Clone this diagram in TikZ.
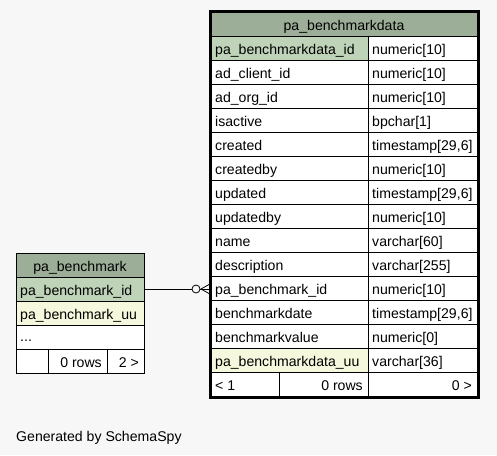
\documentclass[tikz,border=0pt]{standalone}
\usepackage{fontspec}
\setmainfont{Liberation Sans}
\definecolor{tblhead}{HTML}{9DAE98}
\definecolor{tblkey}{HTML}{BFD3B9}
\definecolor{tbluniq}{HTML}{F5F8DC}
\definecolor{pagebg}{HTML}{F7F7F7}
\tikzset{
  cell/.style={draw=black, line width=0.8pt},
  txt/.style={anchor=base west, inner sep=0pt, font=\fontsize{14.1}{16}\selectfont},
  rtxt/.style={anchor=base east, inner sep=0pt, font=\fontsize{14.1}{16}\selectfont},
  ctxt/.style={anchor=base, inner sep=0pt, font=\fontsize{14.1}{16}\selectfont}
}
\begin{document}
\begin{tikzpicture}[x=1pt, y=-1pt]

%definitions
\def\rowh{24}
\def\bigleft{211}
\def\bigmid{368}
\def\bigright{477}
\def\bigtop{12}
%
\def\smallleft{16}
\def\smallright{144}
\def\smalltop{253}

\fill[pagebg] (0,0) rectangle (497,455);
\useasboundingbox (0,0) rectangle (497,455);

%pa_benchmarkdata
\filldraw[fill=tblhead, cell] (\bigleft,\bigtop) rectangle (\bigright,\bigtop+\rowh);
\node[ctxt] (bdhead) at ({(\bigleft+\bigright)/2},\bigtop+18) {pa\_benchmarkdata};
\foreach \cname/\ctype/\cfill [count=\i] in {
  pa\_benchmarkdata\_id/numeric[10]/tblkey,
  ad\_client\_id/numeric[10]/white,
  ad\_org\_id/numeric[10]/white,
  isactive/bpchar[1]/white,
  created/timestamp[29{,}6]/white,
  createdby/numeric[10]/white,
  updated/timestamp[29{,}6]/white,
  updatedby/numeric[10]/white,
  name/varchar[60]/white,
  description/varchar[255]/white,
  pa\_benchmark\_id/numeric[10]/white,
  benchmarkdate/timestamp[29{,}6]/white,
  benchmarkvalue/numeric[0]/white,
  pa\_benchmarkdata\_uu/varchar[36]/tbluniq}{
  \filldraw[fill=\cfill, cell] (\bigleft,\bigtop+\rowh*\i) rectangle (\bigmid,\bigtop+\rowh*\i+\rowh);
  \filldraw[fill=white, cell] (\bigmid,\bigtop+\rowh*\i) rectangle (\bigright,\bigtop+\rowh*\i+\rowh);
  \node[txt] (bdname\i) at (\bigleft+4,\bigtop+\rowh*\i+18) {\cname};
  \node[txt] (bdtype\i) at (\bigmid+4,\bigtop+\rowh*\i+18) {\ctype};
}
% footer
\filldraw[fill=white, cell] (\bigleft,\bigtop+\rowh*15) rectangle (279,\bigtop+\rowh*16);
\filldraw[fill=white, cell] (279,\bigtop+\rowh*15) rectangle (\bigmid,\bigtop+\rowh*16);
\filldraw[fill=white, cell] (\bigmid,\bigtop+\rowh*15) rectangle (\bigright,\bigtop+\rowh*16);
\node[txt] (bdprev) at (\bigleft+4,\bigtop+\rowh*15+18) {< 1};
\node[rtxt] (bdrows) at (\bigmid-5,\bigtop+\rowh*15+18) {0 rows};
\node[rtxt] (bdnext) at (\bigright-5,\bigtop+\rowh*15+18) {0 >};
\draw[line width=3pt] (\bigleft-1,\bigtop-1) rectangle (\bigright+1,\bigtop+\rowh*16+1);

%pa_benchmark
\filldraw[fill=tblhead, cell] (\smallleft,\smalltop) rectangle (\smallright,\smalltop+\rowh);
\node[ctxt] (bmhead) at ({(\smallleft+\smallright)/2},\smalltop+18) {pa\_benchmark};
\filldraw[fill=tblkey, cell] (\smallleft,\smalltop+\rowh) rectangle (\smallright,\smalltop+\rowh*2);
\node[txt] (bmid) at (\smallleft+4,\smalltop+\rowh+18) {pa\_benchmark\_id};
\filldraw[fill=tbluniq, cell] (\smallleft,\smalltop+\rowh*2) rectangle (\smallright,\smalltop+\rowh*3);
\node[txt] (bmuu) at (\smallleft+4,\smalltop+\rowh*2+18) {pa\_benchmark\_uu};
\filldraw[fill=white, cell] (\smallleft,\smalltop+\rowh*3) rectangle (\smallright,\smalltop+\rowh*4);
\node[txt] (bmmore) at (\smallleft+4,\smalltop+\rowh*3+16) {...};
\filldraw[fill=white, cell] (\smallleft,\smalltop+\rowh*4) rectangle (48,\smalltop+\rowh*5);
\filldraw[fill=white, cell] (48,\smalltop+\rowh*4) rectangle (107,\smalltop+\rowh*5);
\filldraw[fill=white, cell] (107,\smalltop+\rowh*4) rectangle (\smallright,\smalltop+\rowh*5);
\node[rtxt] (bmrows) at (102,\smalltop+\rowh*4+18) {0 rows};
\node[rtxt] (bmnext) at (\smallright-5,\smalltop+\rowh*4+18) {2 >};

%connector
\coordinate (bmport) at (\smallright,\smalltop+\rowh*1.5);
\coordinate (bdport) at (\bigleft-2,\smalltop+\rowh*1.5);
\coordinate (ring) at (196,\smalltop+\rowh*1.5);
\draw[line width=0.8pt] (bmport) -- ([xshift=-4pt]ring);
\draw[line width=0.8pt] (ring) circle [radius=4pt];
\draw[line width=0.8pt] ([xshift=4pt]ring) -- (bdport);
\draw[line width=0.8pt] ([xshift=5pt]ring) -- ([yshift=-4.5pt]bdport);
\draw[line width=0.8pt] ([xshift=5pt]ring) -- ([yshift=4.5pt]bdport);

\node[anchor=base west, inner sep=0pt, font=\fontsize{14.1}{16}\selectfont] (credit) at (16,441) {Generated by SchemaSpy};
\end{tikzpicture}
\end{document}
